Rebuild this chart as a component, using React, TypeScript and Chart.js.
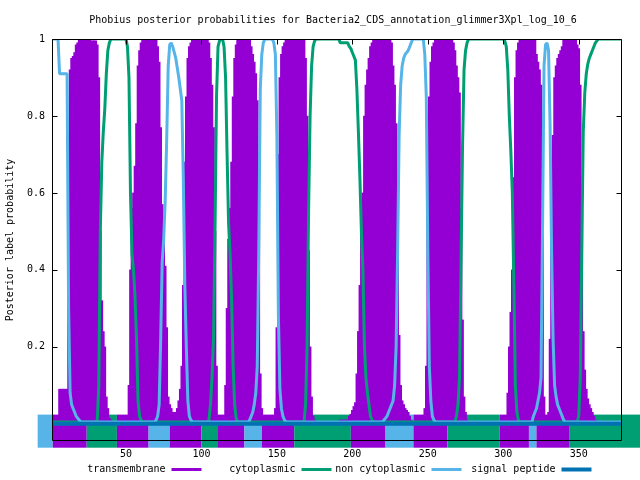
import React, { useEffect, useRef } from 'react';
import { Chart, registerables } from 'chart.js';

Chart.register(...registerables);

// ---------- texts ----------
const TITLE = 'Phobius posterior probabilities for Bacteria2_CDS_annotation_glimmer3Xpl_log_10_6';
const Y_TITLE = 'Posterior label probability';
const SERIES_LABELS = ['transmembrane', 'cytoplasmic', 'non cytoplasmic', 'signal peptide'];
const X_TICKS = [50, 100, 150, 200, 250, 300, 350];
const Y_TICKS = [0.2, 0.4, 0.6, 0.8, 1];
const Y_TICK_LABELS = ['0.2', '0.4', '0.6', '0.8', '1'];
const X_MIN = 1;
const X_MAX = 378;
const Y_MIN = -0.042;
const Y_MAX = 1;

const LO = 0.005; // near-zero level

// ---------- per-residue posterior probabilities (residue 1..378) ----------
const TM = [
  LO, LO, LO, LO, LO, 0.09, 0.09, 0.09, 0.09, 0.09,
  0.09, 0.75, 0.92, 0.95, 0.955, 0.965, 0.985, 0.99, 1, 1,
  1, 1, 1, 1, 1, 1, 0.995, 0.995, 0.995, 0.995,
  0.985, 0.9, 0.5, 0.32, 0.24, 0.2, 0.07, 0.04, 0.015, 0.01,
  LO, LO, LO, LO, LO, LO, LO, LO, LO, LO,
  0.02, 0.1, 0.4, 0.56, 0.6, 0.67, 0.78, 0.93, 0.97, 0.99,
  1, 1, 1, 1, 1, 1, 1, 1, 1, 1,
  0.98, 0.94, 0.77, 0.57, 0.51, 0.41, 0.25, 0.07, 0.05, 0.04,
  0.03, 0.03, 0.03, 0.04, 0.06, 0.09, 0.15, 0.36, 0.68, 0.85,
  0.95, 0.98, 0.99, 1, 1, 1, 1, 1, 1, 1,
  1, 1, 1, 1, 0.99, 0.95, 0.88, 0.77, 0.5, 0.15,
  0.02, LO, LO, LO, 0.02, 0.1, 0.3, 0.48, 0.56, 0.68,
  0.85, 0.95, 0.985, 1, 1, 1, 1, 1, 1, 1,
  1, 1, 0.98, 0.96, 0.94, 0.91, 0.84, 0.55, 0.13, 0.04,
  0.01, LO, LO, LO, LO, LO, LO, LO, 0.04, 0.25,
  0.7, 0.9, 0.96, 0.98, 0.99, 1, 1, 1, 1, 1,
  1, 1, 1, 1, 1, 1, 1, 1, 0.95, 0.8,
  0.45, 0.2, 0.07, 0.02, 0.01, LO, LO, LO, LO, LO,
  LO, LO, LO, LO, LO, LO, LO, LO, LO, LO,
  LO, 0.01, 0.01, 0.01, 0.01, 0.01, 0.01, 0.02, 0.025, 0.035,
  0.045, 0.055, 0.13, 0.24, 0.36, 0.5, 0.6, 0.8, 0.88, 0.92,
  0.95, 0.98, 0.99, 1, 1, 1, 1, 1, 1, 1,
  1, 1, 1, 1, 1, 0.99, 0.93, 0.88, 0.78, 0.53,
  0.23, 0.1, 0.06, 0.05, 0.04, 0.035, 0.03, 0.02, 0.01, LO,
  LO, LO, LO, LO, LO, LO, LO, 0.04, 0.15, 0.55,
  0.85, 0.94, 0.98, 0.99, 1, 1, 1, 1, 1, 1,
  1, 1, 1, 1, 1, 1, 0.99, 0.97, 0.93, 0.9,
  0.86, 0.56, 0.27, 0.07, 0.03, 0.01, LO, LO, LO, LO,
  LO, LO, LO, LO, LO, LO, LO, LO, LO, LO,
  LO, LO, LO, LO, LO, LO, LO, LO, LO, LO,
  LO, 0.01, 0.08, 0.2, 0.29, 0.4, 0.64, 0.9, 0.97, 0.99,
  1, 1, 1, 1, 1, 1, 1, 1, 1, 1,
  1, 0.96, 0.94, 0.92, 0.88, 0.5, 0.07, 0.015, 0.01, 0.03,
  0.22, 0.55, 0.75, 0.9, 0.93, 0.95, 0.96, 0.97, 0.98, 1,
  1, 1, 1, 1, 1, 1, 1, 1, 0.985, 0.975,
  0.88, 0.55, 0.24, 0.14, 0.09, 0.065, 0.05, 0.04, 0.03, 0.02,
  0.01, LO, LO, LO, LO, LO, LO, LO, LO, LO,
  LO, LO, LO, LO, LO, LO, LO, LO,
];

const CYTO = [
  LO, LO, LO, LO, LO, LO, LO, LO, LO, LO,
  LO, LO, LO, LO, LO, LO, LO, LO, LO, LO,
  LO, LO, LO, LO, LO, LO, LO, LO, LO, LO,
  0.01, 0.1, 0.5, 0.68, 0.76, 0.82, 0.91, 0.97, 0.99, 1,
  1, 1, 1, 1, 1, 1, 1, 1, 1, 1,
  0.98, 0.9, 0.6, 0.44, 0.4, 0.33, 0.22, 0.06, 0.02, 0.01,
  LO, LO, LO, LO, LO, LO, LO, LO, LO, LO,
  LO, LO, LO, LO, LO, LO, LO, LO, LO, LO,
  LO, LO, LO, LO, LO, LO, LO, LO, LO, LO,
  LO, LO, LO, LO, LO, LO, LO, LO, LO, LO,
  LO, LO, LO, LO, 0.01, 0.05, 0.12, 0.22, 0.5, 0.85,
  0.98, 0.995, 1, 1, 0.98, 0.9, 0.7, 0.52, 0.44, 0.32,
  0.15, 0.05, 0.015, LO, LO, LO, LO, LO, LO, LO,
  LO, LO, LO, LO, LO, LO, LO, LO, LO, LO,
  LO, LO, LO, LO, LO, LO, LO, LO, LO, LO,
  LO, LO, LO, LO, LO, LO, LO, LO, LO, LO,
  LO, LO, LO, LO, LO, LO, LO, LO, 0.05, 0.2,
  0.55, 0.8, 0.93, 0.98, 0.995, 1, 1, 1, 1, 1,
  1, 1, 1, 1, 1, 1, 1, 1, 1, 1,
  1, 0.99, 0.99, 0.99, 0.99, 0.99, 0.99, 0.98, 0.975, 0.965,
  0.955, 0.945, 0.87, 0.76, 0.64, 0.5, 0.4, 0.2, 0.12, 0.08,
  0.05, 0.02, 0.01, LO, LO, LO, LO, LO, LO, LO,
  LO, LO, LO, LO, LO, LO, LO, LO, LO, LO,
  LO, LO, LO, LO, LO, LO, LO, LO, LO, LO,
  LO, LO, LO, LO, LO, LO, LO, LO, LO, LO,
  LO, LO, LO, LO, LO, LO, LO, LO, LO, LO,
  LO, LO, LO, LO, LO, LO, LO, LO, 0.02, 0.05,
  0.12, 0.42, 0.72, 0.92, 0.97, 0.99, 1, 1, 1, 1,
  1, 1, 1, 1, 1, 1, 1, 1, 1, 1,
  1, 1, 1, 1, 1, 1, 1, 1, 1, 1,
  0.995, 0.98, 0.92, 0.8, 0.71, 0.6, 0.36, 0.1, 0.03, 0.01,
  LO, LO, LO, LO, LO, LO, LO, LO, LO, LO,
  LO, LO, LO, LO, LO, LO, LO, LO, LO, LO,
  LO, LO, LO, LO, LO, LO, LO, LO, LO, LO,
  LO, LO, LO, LO, LO, LO, LO, LO, LO, 0.02,
  0.12, 0.45, 0.76, 0.86, 0.91, 0.935, 0.95, 0.96, 0.97, 0.98,
  0.99, 0.995, 1, 1, 1, 1, 1, 1, 1, 1,
  1, 1, 1, 1, 1, 1, 1, 1,
];

const NONCYTO = [
  1, 1, 1, 1, 1, 0.91, 0.91, 0.91, 0.91, 0.91,
  0.91, 0.3, 0.08, 0.05, 0.04, 0.03, 0.02, 0.015, 0.01, LO,
  LO, LO, LO, LO, LO, LO, LO, LO, LO, LO,
  LO, LO, LO, LO, LO, LO, LO, LO, LO, LO,
  LO, LO, LO, LO, LO, LO, LO, LO, LO, LO,
  LO, LO, LO, LO, LO, LO, LO, LO, LO, LO,
  LO, LO, LO, LO, LO, LO, LO, LO, LO, 0.01,
  0.02, 0.05, 0.22, 0.42, 0.48, 0.58, 0.74, 0.93, 0.985, 0.99,
  0.98, 0.965, 0.95, 0.925, 0.9, 0.87, 0.84, 0.64, 0.36, 0.2,
  0.06, 0.02, 0.01, LO, LO, LO, LO, LO, LO, LO,
  LO, LO, LO, LO, LO, LO, LO, LO, LO, LO,
  LO, LO, LO, LO, LO, LO, LO, LO, LO, LO,
  LO, LO, LO, LO, LO, LO, LO, LO, LO, LO,
  LO, 0.01, 0.02, 0.03, 0.05, 0.08, 0.15, 0.45, 0.87, 0.96,
  0.99, 1, 1, 1, 1, 1, 1, 0.99, 0.96, 0.75,
  0.28, 0.09, 0.04, 0.02, 0.01, LO, LO, LO, LO, LO,
  LO, LO, LO, LO, LO, LO, LO, LO, LO, LO,
  LO, LO, LO, LO, LO, LO, LO, LO, LO, LO,
  LO, LO, LO, LO, LO, LO, LO, LO, LO, LO,
  LO, LO, LO, LO, LO, LO, LO, LO, LO, LO,
  LO, LO, LO, LO, LO, LO, LO, LO, LO, LO,
  LO, LO, LO, LO, LO, LO, LO, LO, LO, LO,
  0.01, 0.015, 0.02, 0.03, 0.04, 0.05, 0.06, 0.1, 0.2, 0.45,
  0.75, 0.88, 0.93, 0.95, 0.96, 0.965, 0.97, 0.98, 0.99, 1,
  1, 1, 1, 1, 1, 1, 1, 0.96, 0.85, 0.45,
  0.15, 0.06, 0.02, 0.01, LO, LO, LO, LO, LO, LO,
  LO, LO, LO, LO, LO, LO, LO, LO, LO, LO,
  LO, LO, LO, LO, LO, LO, LO, LO, LO, LO,
  LO, LO, LO, LO, LO, LO, LO, LO, LO, LO,
  LO, LO, LO, LO, LO, LO, LO, LO, LO, LO,
  LO, LO, LO, LO, LO, LO, LO, LO, LO, LO,
  LO, LO, LO, LO, LO, LO, LO, LO, LO, 0.02,
  0.03, 0.04, 0.06, 0.08, 0.12, 0.5, 0.93, 0.985, 0.99, 0.97,
  0.78, 0.45, 0.22, 0.1, 0.07, 0.05, 0.04, 0.03, 0.02, 0.01,
  LO, LO, LO, LO, LO, LO, LO, LO, LO, LO,
  LO, LO, LO, LO, LO, LO, LO, LO, LO, LO,
  LO, LO, LO, LO, LO, LO, LO, LO, LO, LO,
  LO, LO, LO, LO, LO, LO, LO, LO,
];

const SIGNAL = [
  0, 0, 0, 0, 0, 0, 0, 0, 0, 0, 0, 0, 0, 0, 0, 0, 0, 0, 0, 0,
  0, 0, 0, 0, 0, 0, 0, 0, 0, 0, 0, 0, 0, 0, 0, 0, 0, 0, 0, 0,
  0, 0, 0, 0, 0, 0, 0, 0, 0, 0, 0, 0, 0, 0, 0, 0, 0, 0, 0, 0,
  0, 0, 0, 0, 0, 0, 0, 0, 0, 0, 0, 0, 0, 0, 0, 0, 0, 0, 0, 0,
  0, 0, 0, 0, 0, 0, 0, 0, 0, 0, 0, 0, 0, 0, 0, 0, 0, 0, 0, 0,
  0, 0, 0, 0, 0, 0, 0, 0, 0, 0, 0, 0, 0, 0, 0, 0, 0, 0, 0, 0,
  0, 0, 0, 0, 0, 0, 0, 0, 0, 0, 0, 0, 0, 0, 0, 0, 0, 0, 0, 0,
  0, 0, 0, 0, 0, 0, 0, 0, 0, 0, 0, 0, 0, 0, 0, 0, 0, 0, 0, 0,
  0, 0, 0, 0, 0, 0, 0, 0, 0, 0, 0, 0, 0, 0, 0, 0, 0, 0, 0, 0,
  0, 0, 0, 0, 0, 0, 0, 0, 0, 0, 0, 0, 0, 0, 0, 0, 0, 0, 0, 0,
  0, 0, 0, 0, 0, 0, 0, 0, 0, 0, 0, 0, 0, 0, 0, 0, 0, 0, 0, 0,
  0, 0, 0, 0, 0, 0, 0, 0, 0, 0, 0, 0, 0, 0, 0, 0, 0, 0, 0, 0,
  0, 0, 0, 0, 0, 0, 0, 0, 0, 0, 0, 0, 0, 0, 0, 0, 0, 0, 0, 0,
  0, 0, 0, 0, 0, 0, 0, 0, 0, 0, 0, 0, 0, 0, 0, 0, 0, 0, 0, 0,
  0, 0, 0, 0, 0, 0, 0, 0, 0, 0, 0, 0, 0, 0, 0, 0, 0, 0, 0, 0,
  0, 0, 0, 0, 0, 0, 0, 0, 0, 0, 0, 0, 0, 0, 0, 0, 0, 0, 0, 0,
  0, 0, 0, 0, 0, 0, 0, 0, 0, 0, 0, 0, 0, 0, 0, 0, 0, 0, 0, 0,
  0, 0, 0, 0, 0, 0, 0, 0, 0, 0, 0, 0, 0, 0, 0, 0, 0, 0, 0, 0,
  0, 0, 0, 0, 0, 0, 0, 0, 0, 0, 0, 0, 0, 0, 0, 0, 0, 0,
];

// ---------- predicted topology band (residue coordinates) ----------
const TOPO_START = [-8.5, 1.5, 24, 44, 65, 79, 100, 110.5, 128.5, 140, 161.5, 199, 222, 240.5, 263, 297.5, 317, 322, 344];
const TOPO_END = [1.5, 24, 44, 65, 79, 100, 110.5, 128.5, 140, 161.5, 199, 222, 240.5, 263, 297.5, 317, 322, 344, 392];
const TOPO_STATE = ['o', 'M', 'i', 'M', 'o', 'M', 'i', 'M', 'o', 'M', 'i', 'M', 'o', 'M', 'i', 'M', 'o', 'M', 'i'];
const TOPO_BAND = [0.024, -0.062];

const RESIDUES = TM.map((_, i) => i + 1);

const C_TM = '#9400d3';
const C_CYTO = '#009e73';
const C_NONCYTO = '#56b4e9';
const C_SIGNAL = '#0072b2';
const TOPO_COLOR: Record<string, string> = { M: C_TM, i: C_CYTO, o: C_NONCYTO };
const SERIES_COLORS = [C_TM, C_CYTO, C_NONCYTO, C_SIGNAL];
const SERIES_WIDTHS = [3, 3, 3, 4];
const FONT_FAMILY = '"DejaVu Sans Mono", "Liberation Mono", monospace';
const FONT = `10px ${FONT_FAMILY}`;

const pts = (arr: number[]) => arr.map((v, i) => ({ x: RESIDUES[i], y: v }));

export default function App() {
  const ref = useRef<HTMLCanvasElement>(null);

  useEffect(() => {
    const canvas = ref.current;
    if (!canvas) return;

    const topoPlugin = {
      id: 'topoBand',
      beforeDatasetsDraw(chart: any) {
        const { ctx } = chart;
        const x = chart.scales.x;
        const y = chart.scales.y;
        const yTop = y.getPixelForValue(TOPO_BAND[0]);
        const yBot = y.getPixelForValue(TOPO_BAND[1]);
        ctx.save();
        for (let i = 0; i < TOPO_START.length; i++) {
          const x0 = x.getPixelForValue(TOPO_START[i]);
          const x1 = x.getPixelForValue(TOPO_END[i]);
          ctx.fillStyle = TOPO_COLOR[TOPO_STATE[i]];
          ctx.fillRect(x0, yTop, x1 - x0, yBot - yTop);
        }
        ctx.restore();
      },
    };

    const framePlugin = {
      id: 'frame',
      afterDatasetsDraw(chart: any) {
        const { ctx, chartArea } = chart;
        const x = chart.scales.x;
        const y = chart.scales.y;
        const l = Math.round(chartArea.left) + 0.5;
        const r = Math.round(chartArea.right) + 0.5;
        const t = Math.round(chartArea.top) + 0.5;
        const b = Math.round(chartArea.bottom) + 0.5;
        ctx.save();
        ctx.strokeStyle = '#000';
        ctx.lineWidth = 1;
        ctx.beginPath();
        ctx.rect(l, t, r - l, b - t);
        for (const v of Y_TICKS) {
          const py = Math.round(y.getPixelForValue(v)) + 0.5;
          ctx.moveTo(l, py);
          ctx.lineTo(l + 5, py);
          ctx.moveTo(r, py);
          ctx.lineTo(r - 5, py);
        }
        for (const v of X_TICKS) {
          const px = Math.round(x.getPixelForValue(v)) + 0.5;
          ctx.moveTo(px, t);
          ctx.lineTo(px, t + 5);
        }
        ctx.stroke();
        ctx.restore();
      },
    };

    const textPlugin = {
      id: 'texts',
      afterDraw(chart: any) {
        const { ctx } = chart;
        ctx.save();
        ctx.fillStyle = '#000';
        ctx.font = FONT;
        ctx.textBaseline = 'middle';
        // title
        ctx.textAlign = 'center';
        ctx.fillText(TITLE, 333, 20);
        // y axis title
        ctx.save();
        ctx.translate(10, 240);
        ctx.rotate(-Math.PI / 2);
        ctx.fillText(Y_TITLE, 0, 0);
        ctx.restore();
        // legend (gnuplot style: text then line sample)
        const ly = 469.5;
        for (let i = 0; i < SERIES_LABELS.length; i++) {
          const tr = 165.5 + 130 * i;
          ctx.textAlign = 'right';
          ctx.fillStyle = '#000';
          ctx.fillText(SERIES_LABELS[i], tr, ly);
          ctx.strokeStyle = SERIES_COLORS[i];
          ctx.lineWidth = SERIES_WIDTHS[i];
          ctx.beginPath();
          ctx.moveTo(tr + 6, ly);
          ctx.lineTo(tr + 36, ly);
          ctx.stroke();
        }
        ctx.restore();
      },
    };

    const chart = new Chart(canvas, {
      type: 'line',
      data: {
        datasets: [
          {
            type: 'bar',
            label: SERIES_LABELS[0],
            data: pts(TM),
            backgroundColor: C_TM,
            borderWidth: 0,
            barThickness: 2,
            order: 4,
          } as any,
          {
            type: 'line',
            label: SERIES_LABELS[1],
            data: pts(CYTO),
            borderColor: C_CYTO,
            borderWidth: 3,
            pointRadius: 0,
            tension: 0,
            borderJoinStyle: 'bevel',
            order: 3,
          },
          {
            type: 'line',
            label: SERIES_LABELS[2],
            data: pts(NONCYTO),
            borderColor: C_NONCYTO,
            borderWidth: 3,
            pointRadius: 0,
            tension: 0,
            borderJoinStyle: 'bevel',
            order: 2,
          },
          {
            type: 'line',
            label: SERIES_LABELS[3],
            data: pts(SIGNAL),
            borderColor: C_SIGNAL,
            borderWidth: 4,
            pointRadius: 0,
            tension: 0,
            order: 1,
          },
        ],
      },
      options: {
        animation: false,
        responsive: false,
        maintainAspectRatio: false,
        events: [],
        layout: { padding: { left: 0, right: 19, top: 39, bottom: 0 } },
        plugins: {
          legend: { display: false },
          title: { display: false },
          tooltip: { enabled: false },
        },
        scales: {
          x: {
            type: 'linear',
            min: X_MIN,
            max: X_MAX,
            offset: false,
            grid: { display: false, drawTicks: false },
            border: { display: false },
            ticks: {
              color: '#000',
              font: { family: FONT_FAMILY, size: 10 },
              padding: 8,
              maxRotation: 0,
              autoSkip: false,
              callback: (v: any) => String(v),
            },
            afterBuildTicks: (s: any) => {
              s.ticks = X_TICKS.map((v) => ({ value: v }));
            },
            afterFit: (s: any) => {
              s.height = 40;
            },
          },
          y: {
            type: 'linear',
            min: Y_MIN,
            max: Y_MAX,
            grid: { display: false, drawTicks: false },
            border: { display: false },
            ticks: {
              color: '#000',
              font: { family: FONT_FAMILY, size: 10 },
              padding: 7,
              autoSkip: false,
              callback: (_v: any, i: number) => Y_TICK_LABELS[i],
            },
            afterBuildTicks: (s: any) => {
              s.ticks = Y_TICKS.map((v) => ({ value: v }));
            },
            afterFit: (s: any) => {
              s.width = 52;
            },
          },
        },
      },
      plugins: [topoPlugin, framePlugin, textPlugin],
    });

    return () => chart.destroy();
  }, []);

  return (
    <div style={{ position: 'fixed', left: 0, top: 0, width: 640, height: 480, background: '#fff' }}>
      <canvas ref={ref} width={640} height={480} style={{ display: 'block', width: 640, height: 480 }} />
    </div>
  );
}
